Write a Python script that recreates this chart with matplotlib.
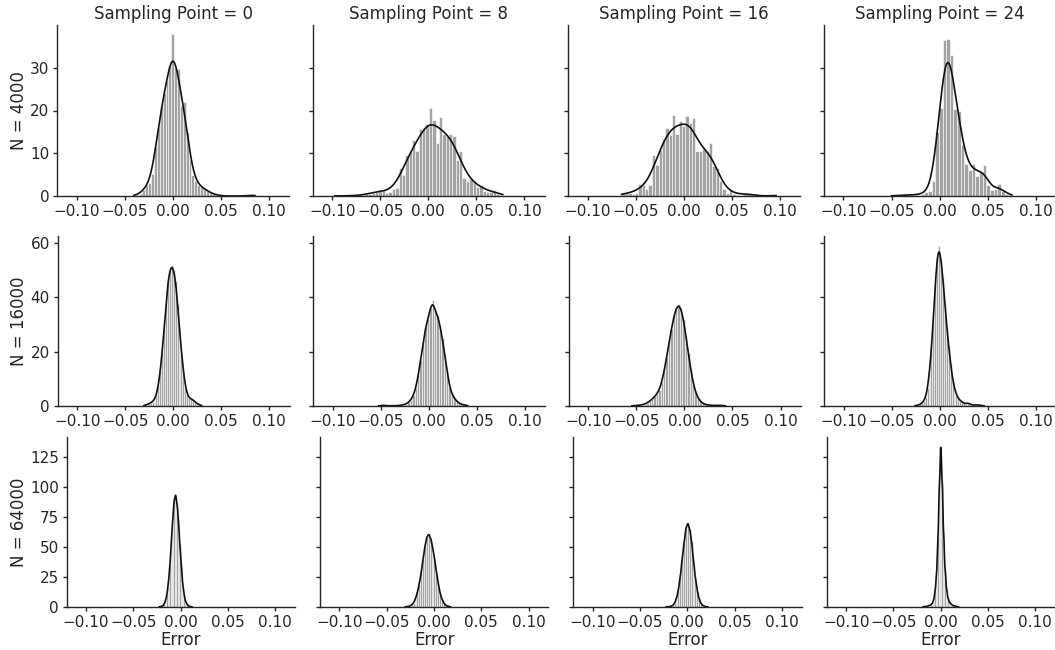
import math
import numpy as np
import matplotlib
matplotlib.use("Agg")
import matplotlib.pyplot as plt

sample_sizes = [4000, 16000, 64000]
sampling_points = [0, 8, 16, 24]
x_ticks = [-0.10, -0.05, 0.00, 0.05, 0.10]
y_ticks = [[0, 10, 20, 30], [0, 20, 40, 60], [0, 25, 50, 75, 100, 125]]
y_max = [40.0, 62.6, 142.0]

# histogram densities, one list per panel (row = N, col = sampling point)
h_4000_sp0 = [0.2, 0.3, 0.8, 1.5, 2.5, 3.0, 5.2, 11.5, 16.0, 21.0, 24.0, 27.0, 30.5, 38.0,
              30.0, 29.8, 21.0, 22.0, 15.0, 8.5, 5.0, 3.5, 2.5, 2.0, 1.8, 1.2, 0.8, 0.4,
              0.3, 0.2, 0, 0, 0, 0, 0, 0, 0, 0, 0, 0.1, 0.3, 0.2]
h_4000_sp8 = [0.1, 0, 0, 0, 0,
              0.3, 0, 0, 0.3, 0.5, 0.5, 0.8, 1.0, 1.5, 1.3, 0.8, 1.0, 1.7, 1.8, 6.5, 5.0,
              9.5, 10.5, 13.0, 10.5, 15.7, 15.8, 16.8, 20.5, 17.8, 12.5, 18.5, 14.5, 14.0,
              14.5, 14.0, 8.5, 10.5, 4.2, 3.5, 4.0, 3.5, 2.0, 2.5, 1.2, 1.0, 1.0, 1.5, 0.5,
              0.3]
h_4000_sp16 = [0.7, 0.8, 0.8, 0.5, 0.8, 2.7, 2.5, 1.6, 2.5, 9.6, 7.3, 10.8, 13.3, 16.0,
               14.2, 19.0, 14.5, 17.5, 16.3, 18.8, 17.0, 18.3, 10.5, 10.5, 11.0, 10.5, 12.3,
               7.0, 6.5, 3.5, 1.7, 0.7, 1.5, 0.5, 0.3, 0, 0.8, 0.8, 0.5, 0, 0, 0, 0, 0, 0,
               0.4]
h_4000_sp24 = [0.1, 0.1, 0.15, 0.2, 0.2, 0.3, 0.3,
               0.3, 0.5, 1.0, 1.2, 3.5, 15.0, 20.5, 36.5, 36.8, 33.0, 20.3, 20.0, 12.0, 7.5,
               6.0, 7.5, 4.7, 5.7, 7.3, 2.5, 1.5, 1.7, 2.8, 1.2, 0.5, 0.3]

h_16000_sp0 = [0.3, 0.5, 0.8, 1.2, 1.6, 2.5, 4.2, 7.5, 13.0, 20.0, 28.5, 37.5, 46.0, 50.0,
               52.0, 50.0, 46.0, 37.5, 28.5, 20.0, 13.0, 7.5, 4.5, 3.0, 2.6, 2.3, 1.6, 1.0,
               0.6, 0.3]
h_16000_sp8 = [0.1, 0.3, 0.2, 0.1, 0.1, 0.1, 0.1, 0.1,
               0.2, 0.3, 0.5, 0.8, 1.4, 2.3, 4.0, 6.5, 11.5, 17.0, 23.0, 29.0, 32.0, 36.0,
               39.0, 35.0, 33.5, 30.0, 25.0, 19.0, 13.0, 7.0, 4.5, 2.8, 1.8, 1.0, 0.6, 0.4,
               0.3]
h_16000_sp16 = [0.1, 0.15, 0.2,
                0.3, 0.5, 0.8, 1.2, 1.8, 2.6, 3.5, 4.5, 6.0, 9.0, 13.0, 18.0, 23.5, 28.5,
                33.0, 36.5, 37.5, 36.0, 32.0, 26.0, 19.5, 13.5, 8.5, 5.0, 3.0, 1.7, 1.0,
                0.6, 0.4, 0.3, 0.2, 0.2, 0.2, 0.3, 0.2, 0.1]
h_16000_sp24 = [0.2, 0.3, 0.6, 1.0, 1.8, 3.2, 6.5, 12.5, 21.0, 32.0, 45.0, 55.0, 59.0,
                54.0, 47.0, 38.0, 29.0, 22.0, 15.5, 10.0, 6.5, 4.2, 2.8, 2.0, 1.5, 1.0, 0.8,
                1.2, 0.8, 0.4, 0.3, 0.4, 0.5, 0.3, 0.2, 0.1]

h_64000_sp0 = [0.3, 0.5, 1.0, 2.5, 5.5, 11.0, 21.0, 35.0, 55.0, 72.0, 89.0, 94.0, 87.0,
               74.0, 53.0, 36.0, 20.0, 10.5, 5.0, 2.4, 1.1, 0.5, 0.3]
h_64000_sp8 = [0.2, 0.4, 0.8, 1.8, 3.6, 7.0, 12.5, 19.5, 29.0, 40.0, 51.0, 58.5, 61.0,
               57.5, 50.0, 41.0, 30.0, 20.0, 11.5, 6.5, 3.2, 1.5, 0.7, 0.3]
h_64000_sp16 = [0.2, 0.3, 0.6, 1.3, 3.2, 7.2, 14.5, 25.5, 40.0, 53.5, 66.0, 70.0, 65.0,
                54.5, 39.0, 24.5, 13.5, 6.8, 2.9, 1.2, 0.5, 0.3]
h_64000_sp24 = [0.3, 0.4, 0.5, 0.8, 1.2, 1.8, 3.0, 6.0, 13.0, 28.0, 58.0, 100.0, 135.0,
                105.0, 62.0, 32.0, 16.0, 8.0, 4.5, 2.8, 1.8, 1.2, 0.8, 0.5, 0.3]

# left edge of the first bin and bin width for each panel
bin_lo = [[-0.0405, -0.0975, -0.065, -0.0501],
          [-0.0305, -0.05225, -0.05475, -0.026],
          [-0.02255, -0.0305, -0.0225, -0.01875]]
bin_w = [[0.003, 0.0035, 0.0035, 0.0038],
         [0.002, 0.0025, 0.0025, 0.002],
         [0.0015, 0.002, 0.002, 0.0015]]

heights = [[h_4000_sp0, h_4000_sp8, h_4000_sp16, h_4000_sp24],
           [h_16000_sp0, h_16000_sp8, h_16000_sp16, h_16000_sp24],
           [h_64000_sp0, h_64000_sp8, h_64000_sp16, h_64000_sp24]]

bw_adjust = [1.7, 1.2, 1.0]

erf = np.vectorize(math.erf)


def norm_cdf(z):
    return 0.5 * (1.0 + erf(z / math.sqrt(2.0)))


def smooth_density(lo, w, h, n, adjust):
    # histogram smoothed with a gaussian kernel (Scott's bandwidth)
    h = np.asarray(h, dtype=float)
    edges = lo + w * np.arange(len(h) + 1)
    centers = (edges[:-1] + edges[1:]) / 2
    mass = h * w
    mean = np.sum(mass * centers) / mass.sum()
    std = np.sqrt(np.sum(mass * (centers - mean) ** 2) / mass.sum())
    bw = std * n ** -0.2 * adjust
    xs = np.linspace(edges[0], edges[-1], 600)
    ys = np.zeros_like(xs)
    for a, b, hh in zip(edges[:-1], edges[1:], h):
        if hh > 0:
            ys += hh * (norm_cdf((xs - a) / bw) - norm_cdf((xs - b) / bw))
    return xs, ys


text_col = "#262626"
plt.rcParams["font.family"] = "DejaVu Sans"
plt.rcParams["text.color"] = text_col
plt.rcParams["axes.labelcolor"] = text_col
plt.rcParams["xtick.color"] = text_col
plt.rcParams["ytick.color"] = text_col

W, H = 1055, 650
fig = plt.figure(figsize=(W / 100, H / 100), dpi=100)

# panel boxes in pixels: each row was a separate grid, the last one is a bit narrower
row_top = [25, 236, 437]
row_bottom = [196, 406, 607]
row_left = [57.0, 57.5, 66.6]
row_step = [255.6, 255.6, 253.4]
row_width = [232.0, 232.0, 228.4]

for r, n in enumerate(sample_sizes):
    first = None
    for c, sp in enumerate(sampling_points):
        x0 = row_left[r] + c * row_step[r]
        rect = [x0 / W, 1 - row_bottom[r] / H, row_width[r] / W,
                (row_bottom[r] - row_top[r]) / H]
        ax = fig.add_axes(rect, sharey=first)
        if first is None:
            first = ax

        h = heights[r][c]
        lo, w = bin_lo[r][c], bin_w[r][c]
        edges = lo + w * np.arange(len(h))
        ax.bar(edges, h, width=w, align="edge", color="#a3a3a3",
               edgecolor="white", linewidth=0.4)
        xs, ys = smooth_density(lo, w, h, n, bw_adjust[r])
        ax.plot(xs, ys, color="#111111", linewidth=1.2)

        ax.set_xlim(-0.1205, 0.121)
        ax.set_ylim(0, y_max[r])
        ax.set_xticks(x_ticks)
        ax.set_xticklabels([f"{t:.2f}".replace("-", "\u2212") for t in x_ticks])
        ax.set_yticks(y_ticks[r])
        ax.tick_params(labelsize=11, length=3, width=1.0, pad=2.5)
        if c > 0:
            ax.tick_params(labelleft=False)
        for side in ["top", "right"]:
            ax.spines[side].set_visible(False)
        for side in ["left", "bottom"]:
            ax.spines[side].set_color(text_col)
            ax.spines[side].set_linewidth(1.0)

        if r == 0:
            ax.set_title(f"Sampling Point = {sp}", fontsize=12, pad=4)
        if c == 0:
            ax.set_ylabel(f"N = {n}", fontsize=12, labelpad=1.5)
        if r == 2:
            ax.set_xlabel("Error", fontsize=12, labelpad=1)

fig.savefig("out.png", dpi=100)
plt.close(fig)
